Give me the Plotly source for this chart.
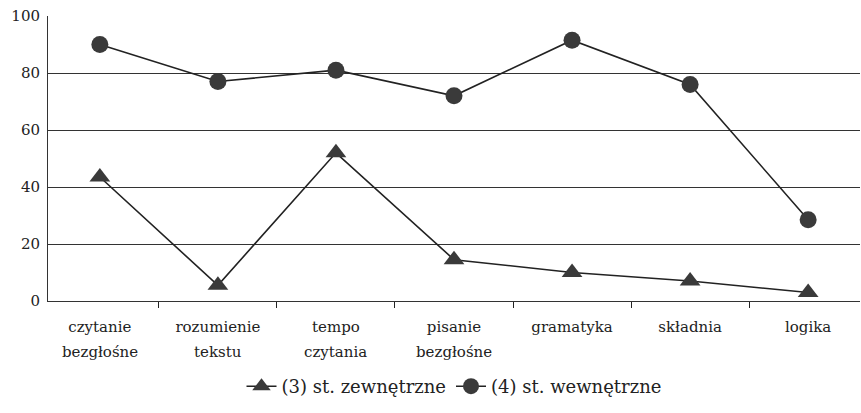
import plotly.graph_objects as go

labels_top = ["czytanie", "rozumienie", "tempo", "pisanie", "gramatyka", "składnia", "logika"]
labels_bottom = ["bezgłośne", "tekstu", "czytania", "bezgłośne", "", "", ""]
categories = [f"{a} {b}".strip() for a, b in zip(labels_top, labels_bottom)]
zewnetrzne = [43.5, 5.5, 52, 14.5, 10, 7, 3]
wewnetrzne = [90, 77, 81, 72, 91.5, 76, 28.5]
y_ticks = [0, 20, 40, 60, 80, 100]

SERIF = "DejaVu Serif, serif"
font = dict(family=SERIF, size=15, color="#222")

fig = go.Figure()
fig.add_trace(go.Scatter(
    x=categories, y=zewnetrzne, name="(3) st. zewnętrzne", mode="lines+markers",
    line=dict(color="#222", width=1.6),
    marker=dict(symbol="triangle-up", size=18, color="#3a3a3a"),
))
fig.add_trace(go.Scatter(
    x=categories, y=wewnetrzne, name="(4) st. wewnętrzne", mode="lines+markers",
    line=dict(color="#222", width=1.6),
    marker=dict(symbol="circle", size=17, color="#3a3a3a"),
))

# second line of the two-line category labels, set a little lower than the default line spacing
for cat, second in zip(categories, labels_bottom):
    if second:
        fig.add_annotation(x=cat, xref="x", y=-0.179, yref="paper", yanchor="middle",
                           text=second, showarrow=False, font=font)

fig.update_layout(
    width=861, height=413,
    margin=dict(l=48, r=1, t=16, b=112),
    paper_bgcolor="white", plot_bgcolor="white",
    font=font,
    showlegend=True,
    legend=dict(orientation="h", x=0.5, xanchor="center", y=-0.30, yanchor="middle",
                font=dict(family=SERIF, size=18, color="#222"),
                itemwidth=30, traceorder="normal"),
    xaxis=dict(
        type="category", categoryarray=categories, tickvals=categories, ticktext=labels_top,
        tickson="boundaries", ticks="outside", ticklen=6,
        tickcolor="#222", tickwidth=1, showgrid=False, showline=True,
        linecolor="#333", linewidth=1, zeroline=False,
        tickfont=font, ticklabelstandoff=12,
    ),
    yaxis=dict(
        range=[0, 100], tickvals=y_ticks, showgrid=True, gridcolor="#333", gridwidth=1,
        showline=True, linecolor="#333", linewidth=1, zeroline=False,
        ticks="", tickfont=dict(family=SERIF, size=15, color="#222"),
        ticklabelstandoff=4,
    ),
)

fig.write_html("out.html")
